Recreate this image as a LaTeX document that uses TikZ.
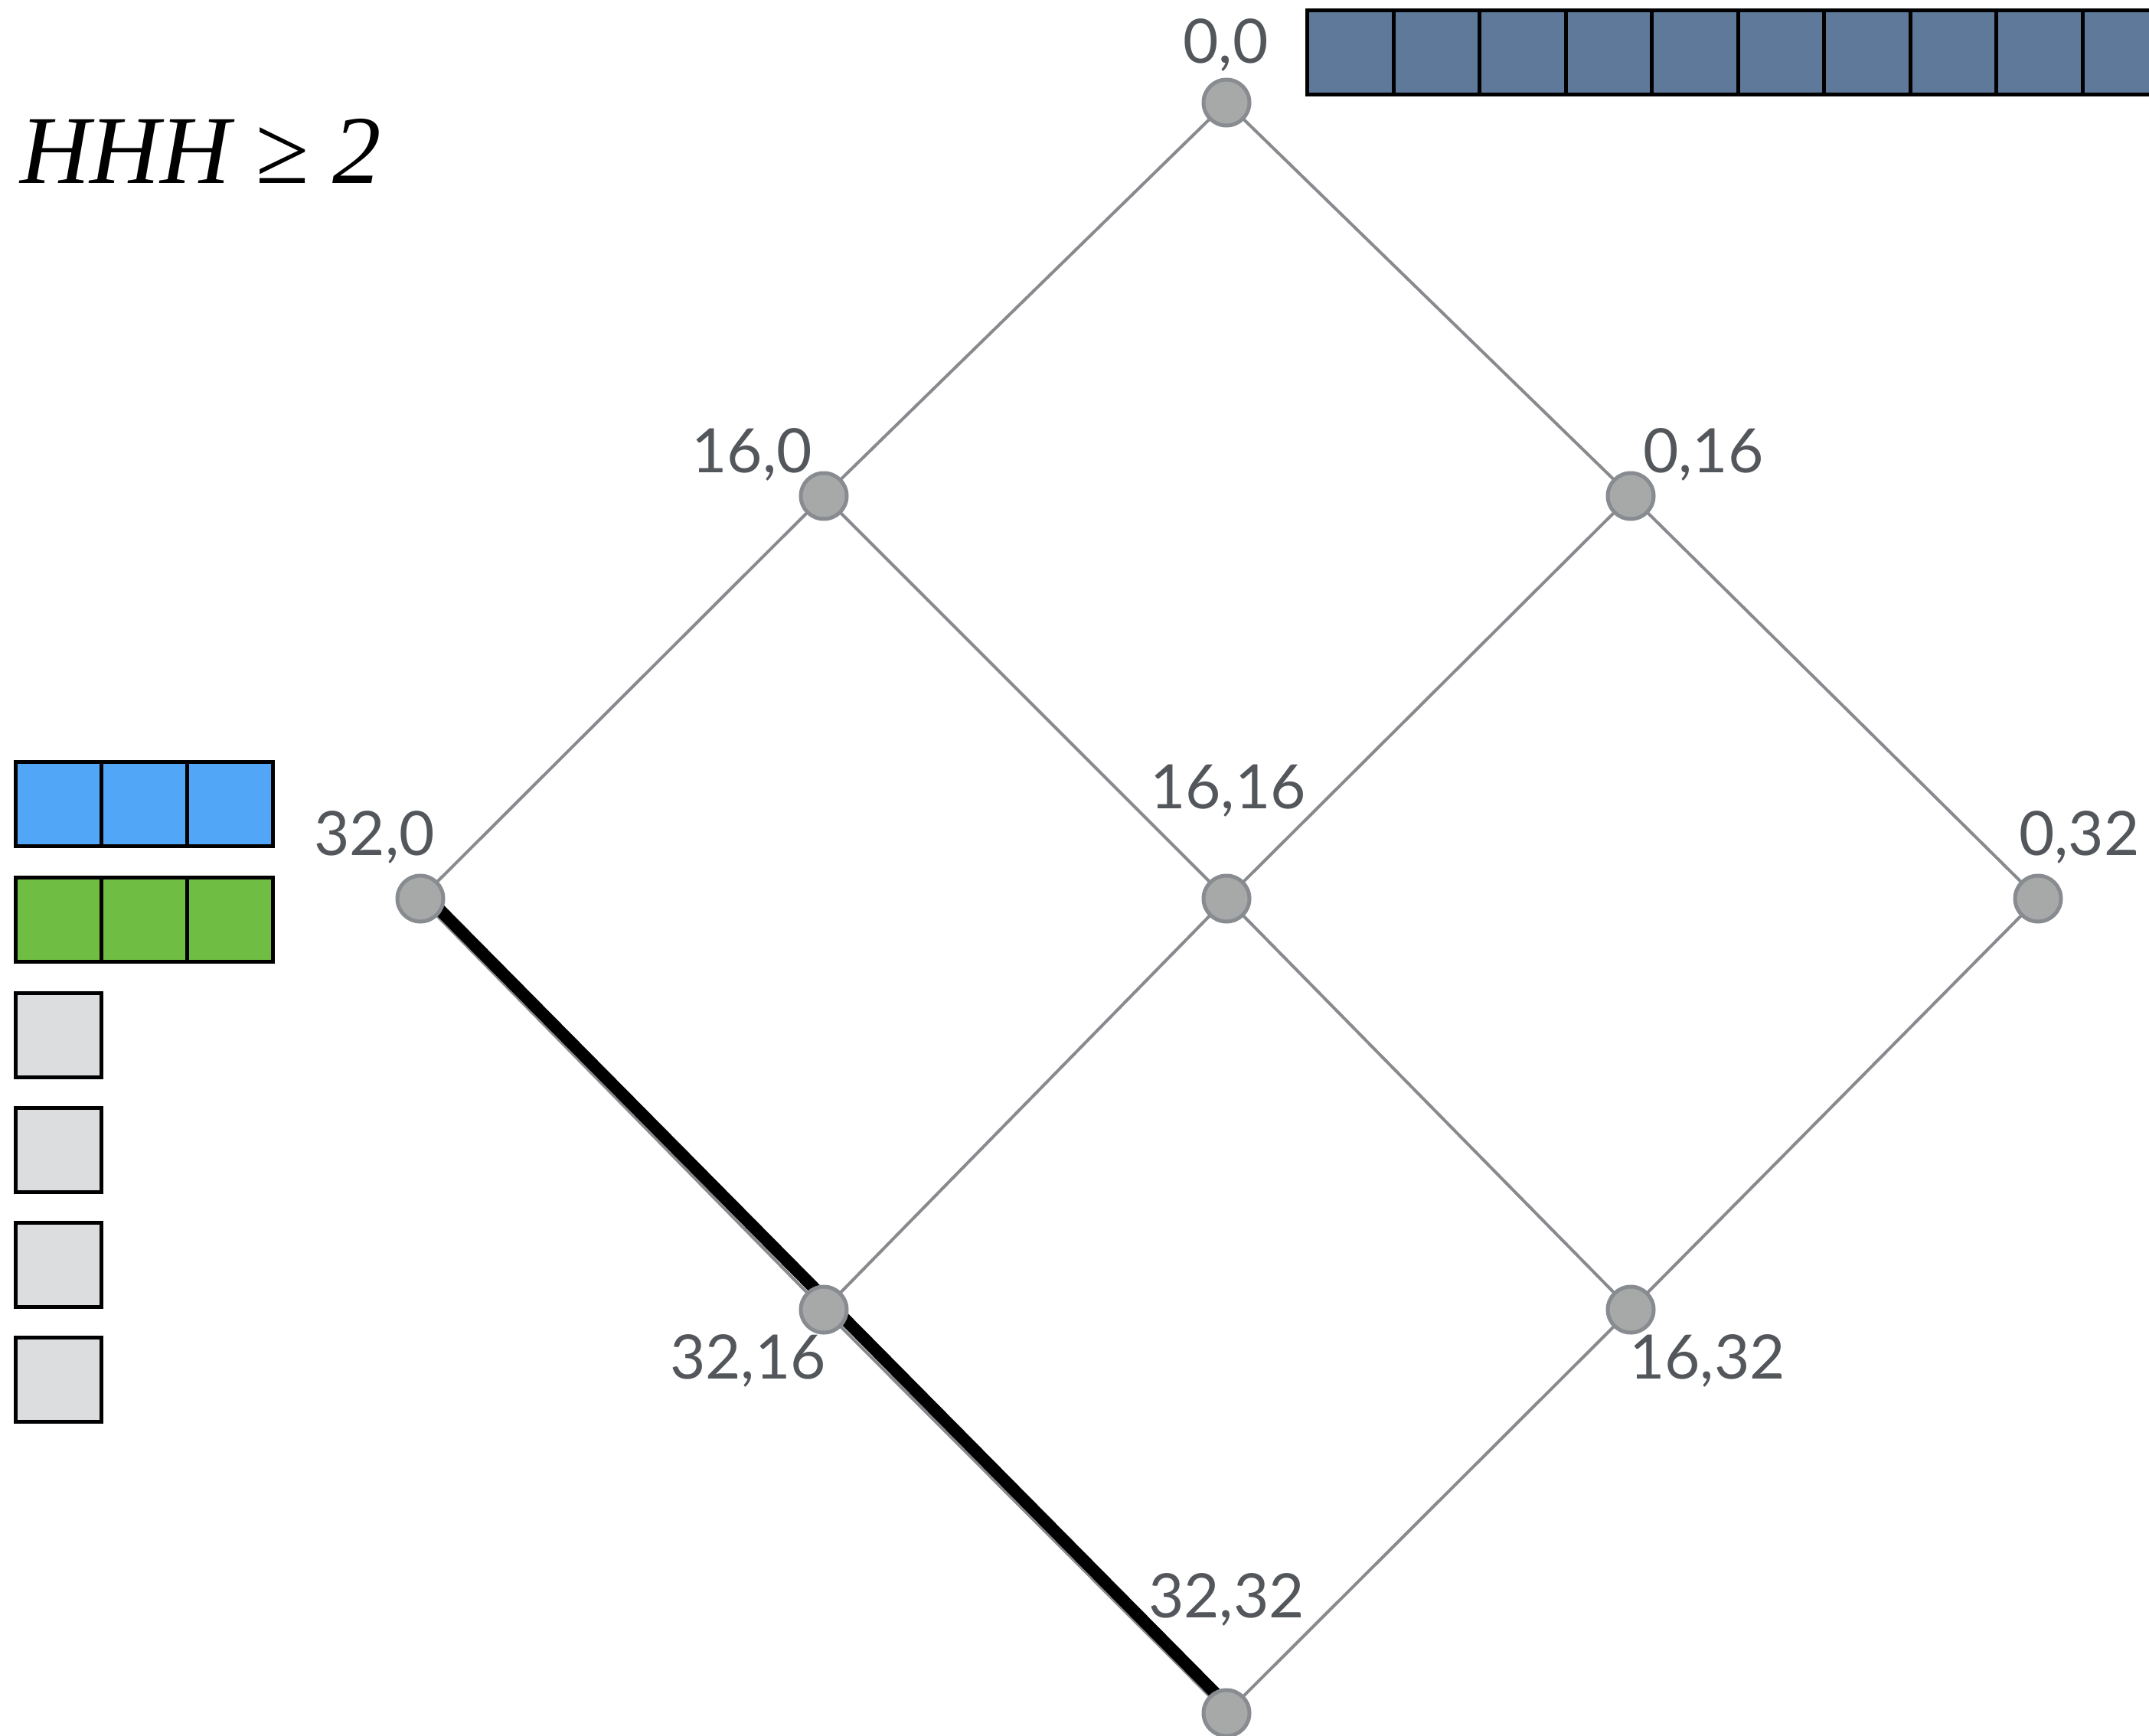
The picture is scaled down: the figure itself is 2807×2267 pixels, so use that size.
\documentclass[tikz,border=0pt]{standalone}
\usepackage{fontspec}
\setmainfont{Lato}
\newfontfamily\timesf{Liberation Serif}
\definecolor{steel}{RGB}{94,121,153}
\definecolor{skyb}{RGB}{82,166,248}
\definecolor{grn}{RGB}{112,189,68}
\definecolor{lgray}{RGB}{220,221,223}
\definecolor{nodefill}{RGB}{166,169,168}
\definecolor{nodeline}{RGB}{136,139,144}
\definecolor{edgecol}{RGB}{136,138,142}
\definecolor{lblcol}{RGB}{83,87,92}
\begin{document}
\begin{tikzpicture}[x=1pt,y=-1pt,
  vtx/.style={circle, fill=nodefill, draw=nodeline, line width=5pt, minimum size=60pt, inner sep=0pt},
  edge/.style={draw=edgecol, line width=4pt},
  hl/.style={draw=black, line width=16pt},
  lbl/.style={text=lblcol, font=\fontsize{80}{80}\selectfont, inner sep=0pt, anchor=base},
  cell/.style={draw=black, line width=5pt, minimum width=112pt, minimum height=110pt, inner sep=0pt},
  tcell/.style={draw=black, line width=5pt, minimum width=112.5pt, minimum height=110.5pt, inner sep=0pt, fill=steel}]
\useasboundingbox (0,0) rectangle (2807,2267);
\begin{scope}
\clip (0,0) rectangle (2807,2267);
% top bar
\foreach \i in {1,...,10} {
  \node[tcell] (t\i) at ({1707.5+112.5*(\i-0.5)},68.4) {};
}
\end{scope}
% title
\node[inner sep=0pt, anchor=base west, font=\timesf\itshape\fontsize{127}{127}\selectfont] (title) at (26,239) {HHH ≥ 2};
% left bars
\foreach \i in {1,2,3} {
  \node[cell, fill=skyb] (b\i) at ({20.2+112*(\i-0.5)},1050.5) {};
  \node[cell, fill=grn] (g\i) at ({20.2+112*(\i-0.5)},1201) {};
}
\foreach \i/\y in {1/1352,2/1502,3/1652,4/1802} {
  \node[cell, fill=lgray] (q\i) at (76.2,\y) {};
}
% lattice coordinates
\coordinate (c00) at (1602,134);
\coordinate (c160) at (1076,648);
\coordinate (c016) at (2130,648);
\coordinate (c320) at (549,1174);
\coordinate (c1616) at (1602,1174);
\coordinate (c032) at (2662,1174);
\coordinate (c3216) at (1076,1711);
\coordinate (c1632) at (2130,1711);
\coordinate (c3232) at (1602,2238);
% edges
\draw[edge] (c00) -- (c160) -- (c320) -- (c3216) -- (c3232) -- (c1632) -- (c032) -- (c016) -- (c00);
\draw[edge] (c160) -- (c1616) -- (c1632);
\draw[edge] (c016) -- (c1616) -- (c3216);
\draw[hl, transform canvas={shift={(5.5,-5.5)}}] (c320) -- (c3232);
% vertices
\foreach \n in {00,160,016,320,1616,032,3216,1632,3232} {
  \node[vtx] (v\n) at (c\n) {};
}
% labels
\node[lbl] (l00) at (1601,82) {0,0};
\node[lbl] (l160) at (982,617) {16,0};
\node[lbl] (l016) at (2225,617) {0,16};
\node[lbl] (l320) at (489,1117) {32,0};
\node[lbl] (l1616) at (1604,1056) {16,16};
\node[lbl] (l032) at (2716,1117) {0,32};
\node[lbl] (l3216) at (977,1801) {32,16};
\node[lbl] (l1632) at (2230,1801) {16,32};
\node[lbl] (l3232) at (1602,2113) {32,32};
\end{tikzpicture}
\end{document}
